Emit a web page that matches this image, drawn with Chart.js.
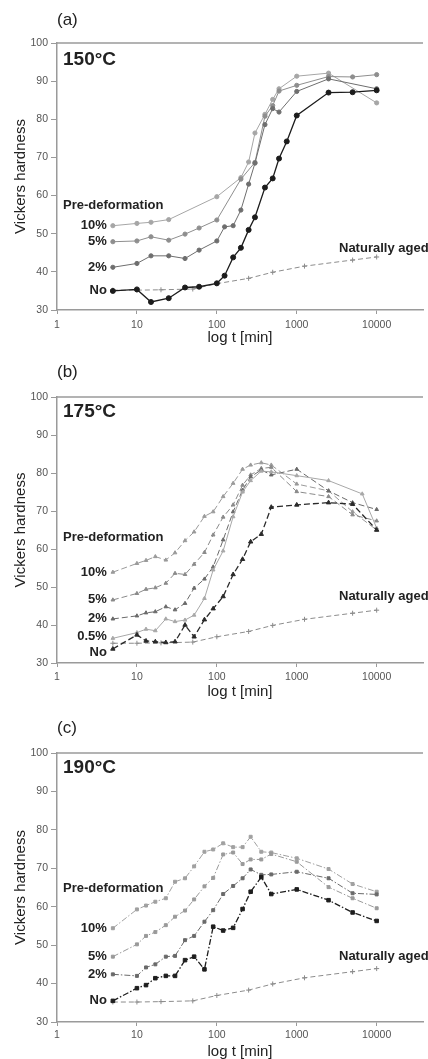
<!DOCTYPE html>
<html>
<head>
<meta charset="utf-8">
<script src="https://cdn.jsdelivr.net/npm/chart.js@4.4.1/dist/chart.umd.min.js"></script>
<style>
  html, body { margin: 0; padding: 0; background: #fff; overflow: hidden; }
  .panel { position: absolute; left: 0; width: 428px; }
  canvas { display: block; }
</style>
</head>
<body>
<div class="panel" style="top:0px"><canvas id="chartA" width="428" height="353"></canvas></div>
<div class="panel" style="top:353px"><canvas id="chartB" width="428" height="353"></canvas></div>
<div class="panel" style="top:706px"><canvas id="chartC" width="428" height="360"></canvas></div>
<script>
// ageing times [min] and Vickers hardness
const timesNat = [5, 10, 20, 50, 100, 250, 500, 1250, 5000, 10000];
const hardNat  = [35.2, 35.2, 35.3, 35.5, 36.9, 38.3, 39.9, 41.5, 43.1, 43.9];

// (a) 150 C
const times150 = [5, 10, 15, 25, 40, 60, 100, 125, 160, 200, 250, 300, 400, 500, 600, 750, 1000, 2500, 5000, 10000];
const h150_10 = [52.1, 52.7, 53.0, 53.7, null, null, 59.7, null, null, 64.7, 68.8, 76.4, 81.3, 85.2, 88.0, null, 91.3, 92.1, null, 84.3];
const h150_5  = [47.9, 48.1, 49.2, 48.3, 49.9, 51.5, 53.6, null, null, 64.3, null, 68.7, 80.8, 83.6, 87.4, null, 88.9, 91.2, 91.1, 91.7];
const h150_2  = [41.2, 42.2, 44.2, 44.2, 43.5, 45.7, 48.1, 51.8, 52.1, 56.2, 63.0, 68.5, 78.6, 82.8, 81.9, null, 87.3, 90.6, null, 88.0];
const h150_0  = [35.0, 35.4, 32.1, 33.1, 35.9, 36.1, 37.0, 39.0, 43.8, 46.3, 51.0, 54.3, 62.1, 64.5, 69.7, 74.2, 81.0, 87.0, 87.1, 87.6];

// (b) 175 C
const times175 = [5, 10, 13, 17, 23, 30, 40, 52, 70, 90, 120, 160, 210, 265, 360, 480, 1000, 2500, 5000, 6600, 10000];
const h175_10 = [53.9, 56.2, 57.0, 58.0, 57.1, 59.0, 62.2, 64.5, 68.6, 69.8, 73.8, 77.3, 81.0, 82.1, 82.7, 82.1, 77.1, 75.3, 69.8, null, 65.0];
const h175_5  = [46.6, 48.3, 49.4, 49.8, 51.0, 53.6, 53.3, 56.0, 59.1, 63.7, 68.4, 71.6, 76.8, 79.5, 81.2, 81.5, 75.1, 73.8, 69.0, null, 67.4];
const h175_2  = [41.6, 42.4, 43.2, 43.5, 44.8, 44.0, 45.7, 49.7, 52.1, 55.3, 62.4, 69.8, 75.5, 79.0, 80.8, 79.5, 81.0, 75.3, 72.2, null, 70.4];
const h175_05 = [36.5, 38.0, 38.9, 38.5, 41.6, 40.9, 41.3, 42.6, 47.0, 54.5, 59.5, 68.5, 75.0, 78.0, 80.5, 80.3, 79.3, 78.0, null, 74.5, 65.5];
const h175_0  = [33.7, 37.4, 35.8, 35.6, 35.4, 35.6, 40.0, 36.9, 41.4, 44.3, 47.5, 53.3, 57.3, 61.9, 63.9, 71.0, 71.6, 72.2, 71.8, null, 65.0];

// (c) 190 C
const times190 = [5, 10, 13, 17, 23, 30, 40, 52, 70, 90, 120, 160, 210, 265, 360, 480, 1000, 2500, 5000, 10000];
const h190_10 = [54.4, 59.3, 60.3, 61.3, 62.2, 66.5, 67.4, 70.5, 74.3, 74.9, 76.5, 75.5, 75.5, 78.2, 74.3, 74.1, 72.6, 69.8, 65.9, 63.9];
const h190_5  = [47.0, 50.2, 52.4, 53.4, 55.2, 57.4, 59.0, 61.9, 65.3, 67.5, 73.6, 74.1, 71.1, 72.3, 72.3, 73.7, 71.7, 65.1, 62.2, 59.6];
const h190_2  = [42.4, 42.0, 44.2, 45.0, 47.0, 47.2, 51.3, 52.4, 56.1, 59.1, 63.3, 65.4, 67.4, 69.7, 68.3, 68.4, 69.1, 67.4, 63.5, 63.2];
const h190_0  = [35.5, 38.8, 39.6, 41.4, 42.0, 42.0, 46.1, 47.0, 43.7, 54.8, 53.8, 54.5, 59.4, 63.9, 67.7, 63.3, 64.5, 61.7, 58.5, 56.3];

const xTicks = [1, 10, 100, 1000, 10000];
const X_MAX = 38000;

const FONT = '"Liberation Sans", Arial, Helvetica, sans-serif';
const TEXT = '#222';
const AXIS = '#9a9a9a';

function ds(times, values, color, point, dash, width) {
    const bold = (width || 1) > 1;
    return {
        data: times.map((t, i) => ({ x: t, y: values[i] })),
        borderColor: color,
        backgroundColor: color,
        borderWidth: width || 1,
        borderDash: dash || [],
        pointStyle: point,
        pointRadius: point === 'cross' ? 2.5 : (bold ? 2.5 : 2.1),
        pointBorderWidth: 1,
        spanGaps: true,
        tension: 0
    };
}

const topFrame = {
    id: 'topFrame',
    afterDraw(chart) {
        const { ctx, chartArea: a } = chart;
        ctx.save();
        ctx.strokeStyle = AXIS;
        ctx.lineWidth = 1.5;
        ctx.beginPath();
        ctx.moveTo(a.left, a.top);
        ctx.lineTo(a.right, a.top);
        ctx.stroke();
        ctx.restore();
    }
};

function drawText(chart, cfg) {
    const { ctx, chartArea, scales: { x, y } } = chart;
    ctx.save();
    ctx.fillStyle = TEXT;
    ctx.textBaseline = 'middle';
    ctx.textAlign = 'left';
    ctx.font = '17px ' + FONT;
    ctx.fillText(cfg.letter, 57, cfg.letterY);
    ctx.font = 'bold 19px ' + FONT;
    ctx.fillText(cfg.temp, 63, chartArea.top + cfg.tempDy);
    ctx.font = 'bold 13px ' + FONT;
    ctx.fillText('Pre-deformation', 63, y.getPixelForValue(cfg.preY));
    ctx.fillText('Naturally aged', 339, y.getPixelForValue(cfg.natY));
    ctx.textAlign = 'right';
    cfg.labels.forEach(l => {
        ctx.fillText(l.text, x.getPixelForValue(l.t) - 6, y.getPixelForValue(l.v) + (l.dy || 0));
    });
    ctx.restore();
}

function makeChart(id, cfg) {
    new Chart(document.getElementById(id), {
        type: 'line',
        data: { datasets: cfg.datasets },
        options: {
            responsive: false,
            animation: false,
            layout: { padding: { top: cfg.plotTop, left: 0, right: 0, bottom: 0 } },
            plugins: {
                legend: { display: false },
                tooltip: { enabled: false }
            },
            scales: {
                x: {
                    type: 'logarithmic',
                    min: 1,
                    max: X_MAX,
                    afterBuildTicks: axis => { axis.ticks = xTicks.map(v => ({ value: v })); },
                    afterFit: axis => { axis.height = cfg.xAxisH; },
                    ticks: {
                        autoSkip: false,
                        maxRotation: 0,
                        padding: cfg.xTickPad,
                        color: '#555',
                        font: { family: FONT, size: 10.5 },
                        callback: v => String(v)
                    },
                    grid: { drawOnChartArea: false, drawTicks: true, tickLength: 4, tickColor: AXIS },
                    border: { color: AXIS, width: 1.5 },
                    title: {
                        display: true,
                        text: 'log t [min]',
                        color: TEXT,
                        font: { family: FONT, size: 15 },
                        padding: { top: 0, bottom: cfg.xTitlePad }
                    }
                },
                y: {
                    min: 30,
                    max: 100,
                    afterFit: axis => { axis.width = 57; },
                    ticks: {
                        stepSize: 10,
                        padding: 3,
                        color: '#555',
                        font: { family: FONT, size: 10.5 }
                    },
                    grid: { drawOnChartArea: false, drawTicks: true, tickLength: 6, tickColor: AXIS },
                    border: { color: AXIS, width: 1.5 },
                    title: {
                        display: true,
                        text: 'Vickers hardness',
                        color: TEXT,
                        font: { family: FONT, size: 15 },
                        padding: { top: 12, bottom: 0 }
                    }
                }
            }
        },
        plugins: [topFrame, { id: 'panelText', afterDraw: chart => drawText(chart, cfg) }]
    });
}

const natStyle = ['#8c8c8c', 'cross', [5, 3], 1];

makeChart('chartA', {
    plotTop: 43, xAxisH: 43, xTickPad: 5, xTitlePad: 6,
    letter: '(a)', letterY: 20, temp: '150°C', tempDy: 17, preY: 57.5, natY: 46.2,
    datasets: [
        ds(times150, h150_0, '#1c1c1c', 'circle', [], 1.3),
        ds(times150, h150_2, '#6e6e6e', 'circle'),
        ds(times150, h150_5, '#8e8e8e', 'circle'),
        ds(times150, h150_10, '#a6a6a6', 'circle'),
        ds(timesNat, hardNat, ...natStyle)
    ],
    labels: [
        { text: '10%', t: times150[0], v: h150_10[0] },
        { text: '5%', t: times150[0], v: h150_5[0] },
        { text: '2%', t: times150[0], v: h150_2[0] },
        { text: 'No', t: times150[0], v: h150_0[0], dy: -1 }
    ]
});

makeChart('chartB', {
    plotTop: 44, xAxisH: 43, xTickPad: 4, xTitlePad: 5,
    letter: '(b)', letterY: 19, temp: '175°C', tempDy: 15, preY: 63, natY: 47.4,
    datasets: [
        ds(times175, h175_0, '#2a2a2a', 'triangle', [6, 3], 1.3),
        ds(times175, h175_05, '#a8a8a8', 'triangle'),
        ds(times175, h175_2, '#6a6a6a', 'triangle', [6, 3]),
        ds(times175, h175_5, '#8a8a8a', 'triangle', [6, 3]),
        ds(times175, h175_10, '#9a9a9a', 'triangle', [6, 3]),
        ds(timesNat, hardNat, ...natStyle)
    ],
    labels: [
        { text: '10%', t: times175[0], v: h175_10[0] },
        { text: '5%', t: times175[0], v: h175_5[0] },
        { text: '2%', t: times175[0], v: h175_2[0] },
        { text: '0.5%', t: times175[0], v: h175_05[0], dy: -2 },
        { text: 'No', t: times175[0], v: h175_0[0], dy: 3 }
    ]
});

makeChart('chartC', {
    plotTop: 47, xAxisH: 44, xTickPad: 3, xTitlePad: 5,
    letter: '(c)', letterY: 22, temp: '190°C', tempDy: 15, preY: 64.8, natY: 47.0,
    datasets: [
        ds(times190, h190_0, '#1e1e1e', 'rect', [6, 2, 1.5, 2], 1.3),
        ds(times190, h190_2, '#6a6a6a', 'rect', [6, 2, 1.5, 2]),
        ds(times190, h190_5, '#9a9a9a', 'rect', [6, 2, 1.5, 2]),
        ds(times190, h190_10, '#a0a0a0', 'rect', [6, 2, 1.5, 2]),
        ds(timesNat, hardNat, ...natStyle)
    ],
    labels: [
        { text: '10%', t: times190[0], v: h190_10[0] },
        { text: '5%', t: times190[0], v: h190_5[0] },
        { text: '2%', t: times190[0], v: h190_2[0] },
        { text: 'No', t: times190[0], v: h190_0[0] }
    ]
});
</script>
</body>
</html>
